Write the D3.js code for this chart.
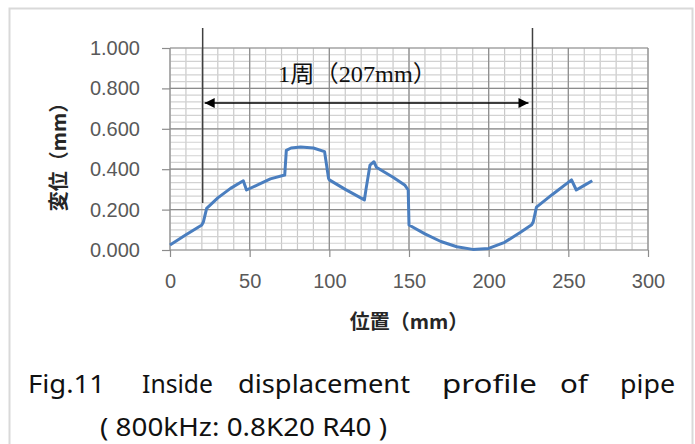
<!DOCTYPE html>
<html>
<head>
<meta charset="utf-8">
<script src="https://cdn.jsdelivr.net/npm/d3@7"></script>
<style>
  body { margin: 0; background: #fff; }
  svg { display: block; }
  .tick text { font-family: "Liberation Sans", Arial, sans-serif; font-size: 20px; fill: #595959; }
</style>
</head>
<body>
<div class="chart"></div>
<script>
const WIDTH = 695;
const HEIGHT = 444;

// chart data (position mm, displacement mm)
var positions = [0, 10, 20, 21, 23, 30, 38, 46, 48, 55, 63, 72, 73, 76, 82, 90, 97, 99.5,
  100, 110, 122, 123, 125.5, 128, 129.5, 140, 147.5, 149.5, 150, 160, 170, 180, 190, 200,
  210, 220, 227, 228, 230, 240, 252, 255, 260, 265];
var displacement = [0.025, 0.075, 0.124, 0.14, 0.206, 0.258, 0.305, 0.343, 0.297, 0.322, 0.352, 0.371, 0.493, 0.505, 0.51, 0.505, 0.487, 0.355,
  0.347, 0.3, 0.248, 0.3, 0.42, 0.437, 0.41, 0.36, 0.32, 0.297, 0.124, 0.08, 0.042, 0.016, 0.003, 0.008,
  0.038, 0.088, 0.125, 0.14, 0.212, 0.275, 0.347, 0.297, 0.32, 0.343];

var xTicks = [0, 50, 100, 150, 200, 250, 300];
var yTicks = [0, 0.2, 0.4, 0.6, 0.8, 1.0];
var xMinor = d3.range(0, 301, 10);
var yMinor = d3.range(0, 30.5, 1).map(function (i) { return i * 0.2 / 6; });

// one circumference marker
var markerPos = [20.5, 227.5];
var markerLabel = '1周（207mm）';

var xTitle = '位置（mm）';
var yTitle = '変位（mm）';
var captionWords = ['Fig.11', 'Inside', 'displacement', 'profile', 'of', 'pipe'];
var captionLine2 = '( 800kHz: 0.8K20 R40 )';

var x = d3.scaleLinear().domain([0, 300]).range([170, 648]);
var y = d3.scaleLinear().domain([0, 1]).range([250, 48]);

var svg = d3.select('.chart').append('svg')
  .attr('width', WIDTH)
  .attr('height', HEIGHT);

// outer frame
svg.append('rect')
  .attr('x', 9.5).attr('y', 8.5)
  .attr('width', 683).attr('height', 520)
  .attr('fill', 'none')
  .attr('stroke', '#d9d9d9')
  .attr('stroke-width', 2);

// minor grid
var grid = svg.append('g');
grid.selectAll('line.vmin').data(xMinor).enter().append('line')
  .attr('x1', function (d) { return x(d); }).attr('x2', function (d) { return x(d); })
  .attr('y1', y(0)).attr('y2', y(1))
  .attr('stroke', '#c9c9c9').attr('stroke-width', 1.2);
grid.selectAll('line.hmin').data(yMinor).enter().append('line')
  .attr('x1', x(0)).attr('x2', x(300))
  .attr('y1', function (d) { return y(d); }).attr('y2', function (d) { return y(d); })
  .attr('stroke', '#d2d2d2').attr('stroke-width', 1.2);

// major grid
grid.selectAll('line.vmaj').data(xTicks).enter().append('line')
  .attr('x1', function (d) { return x(d); }).attr('x2', function (d) { return x(d); })
  .attr('y1', y(0)).attr('y2', y(1))
  .attr('stroke', '#8c8c8c').attr('stroke-width', 1.2);
grid.selectAll('line.hmaj').data(yTicks).enter().append('line')
  .attr('x1', x(0)).attr('x2', x(300))
  .attr('y1', function (d) { return y(d); }).attr('y2', function (d) { return y(d); })
  .attr('stroke', '#8c8c8c').attr('stroke-width', 1.2);

// axes
var yAxis = d3.axisLeft(y).tickValues(yTicks).tickSize(8).tickPadding(22)
  .tickFormat(d3.format('.3f'));
var yAxisG = svg.append('g').attr('transform', 'translate(' + x(0) + ',0)').call(yAxis);
yAxisG.select('.domain').remove();
yAxisG.selectAll('.tick line').attr('stroke', '#8c8c8c').attr('stroke-width', 1.2);

var xAxis = d3.axisBottom(x).tickValues(xTicks).tickSize(7).tickPadding(17);
var xAxisG = svg.append('g').attr('transform', 'translate(0,' + y(0) + ')').call(xAxis);
xAxisG.select('.domain').remove();
xAxisG.selectAll('.tick line').attr('stroke', '#8c8c8c').attr('stroke-width', 1.2);

// axis titles
svg.append('text')
  .attr('x', 409).attr('y', 329)
  .attr('text-anchor', 'middle')
  .attr('font-family', '"Noto Sans CJK JP", sans-serif')
  .attr('font-weight', 'bold')
  .attr('font-size', 20)
  .attr('fill', '#262626')
  .text(xTitle);
svg.append('text')
  .attr('transform', 'translate(66,152) rotate(-90)')
  .attr('text-anchor', 'middle')
  .attr('font-family', '"Noto Sans CJK JP", sans-serif')
  .attr('font-weight', 'bold')
  .attr('font-size', 20)
  .attr('fill', '#262626')
  .text(yTitle);

// data line
var line = d3.line()
  .x(function (d) { return x(d[0]); })
  .y(function (d) { return y(d[1]); });
svg.append('path')
  .attr('d', line(d3.zip(positions, displacement)))
  .attr('fill', 'none')
  .attr('stroke', '#4a7ebf')
  .attr('stroke-width', 3)
  .attr('stroke-linejoin', 'round');

// circumference marker
var defs = svg.append('defs');
defs.append('marker')
  .attr('id', 'arr')
  .attr('viewBox', '0 0 10 10')
  .attr('refX', 10).attr('refY', 5)
  .attr('markerUnits', 'userSpaceOnUse')
  .attr('markerWidth', 16).attr('markerHeight', 10)
  .attr('orient', 'auto-start-reverse')
  .append('path').attr('d', 'M0,0L10,5L0,10Z').attr('fill', '#000');

svg.selectAll('line.mark').data(markerPos).enter().append('line')
  .attr('x1', function (d) { return x(d); }).attr('x2', function (d) { return x(d); })
  .attr('y1', 28).attr('y2', 203)
  .attr('stroke', '#404040').attr('stroke-width', 1.5);
svg.append('line')
  .attr('x1', x(markerPos[0]) + 2).attr('x2', x(markerPos[1]) - 4)
  .attr('y1', 103).attr('y2', 103)
  .attr('stroke', '#000').attr('stroke-width', 1.5)
  .attr('marker-start', 'url(#arr)')
  .attr('marker-end', 'url(#arr)');
svg.append('text')
  .attr('x', 278).attr('y', 82)
  .attr('textLength', 159)
  .attr('lengthAdjust', 'spacingAndGlyphs')
  .attr('font-family', '"Liberation Serif", "Noto Sans CJK JP", serif')
  .attr('font-size', 23)
  .attr('fill', '#111')
  .text(markerLabel);

// caption
var captionX = [[28, 77], [142, 71], [238, 172], [442, 95], [560, 28], [620, 55]];
svg.selectAll('text.cap').data(captionWords).enter().append('text')
  .attr('x', function (d, i) { return captionX[i][0]; })
  .attr('y', 393)
  .attr('textLength', function (d, i) { return captionX[i][1]; })
  .attr('lengthAdjust', 'spacingAndGlyphs')
  .attr('font-family', '"Noto Sans", sans-serif')
  .attr('font-size', 26)
  .attr('fill', '#111')
  .text(function (d) { return d; });
svg.append('text')
  .attr('x', 100).attr('y', 436)
  .attr('textLength', 287)
  .attr('lengthAdjust', 'spacingAndGlyphs')
  .attr('font-family', '"Noto Sans", sans-serif')
  .attr('font-size', 26)
  .attr('fill', '#111')
  .text(captionLine2);
</script>
</body>
</html>
